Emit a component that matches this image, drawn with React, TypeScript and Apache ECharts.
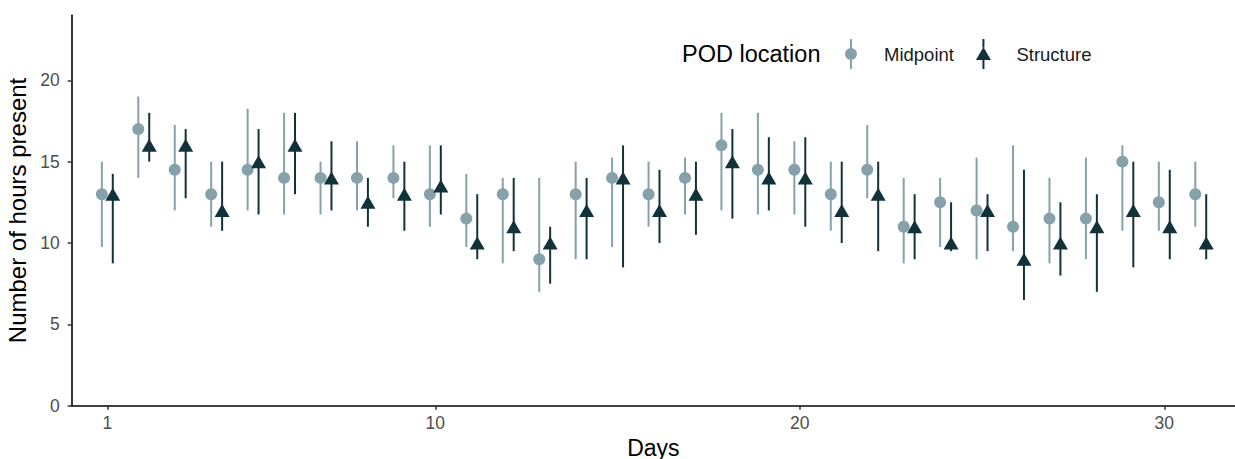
import React, { useEffect, useRef } from "react";
import * as echarts from "echarts";

const days = Array.from({ length: 31 }, (_, i) => i + 1);
const midMean = [13, 17, 14.5, 13, 14.5, 14, 14, 14, 14, 13, 11.5, 13, 9, 13, 14, 13, 14, 16, 14.5, 14.5, 13, 14.5, 11, 12.5, 12, 11, 11.5, 11.5, 15, 12.5, 13];
const midLow = [9.75, 14, 12, 11, 12, 11.75, 11.75, 12, 12.75, 11, 9.75, 8.75, 7, 9, 9.75, 11, 11.75, 12, 11.75, 11.75, 10.75, 12.75, 8.75, 9.75, 9, 9.5, 8.75, 9, 10.75, 10.75, 11];
const midHigh = [15, 19, 17.25, 15, 18.25, 18, 15, 16.25, 16, 16, 14.25, 14, 14, 15, 15.25, 15, 15.25, 18, 18, 16.25, 15, 17.25, 14, 14, 15.25, 16, 14, 15.25, 16, 15, 15];
const structMean = [13, 16, 16, 12, 15, 16, 14, 12.5, 13, 13.5, 10, 11, 10, 12, 14, 12, 13, 15, 14, 14, 12, 13, 11, 10, 12, 9, 10, 11, 12, 11, 10];
const structLow = [8.75, 15, 12.75, 10.75, 11.75, 13, 12, 11, 10.75, 11.75, 9, 9.5, 7.5, 9, 8.5, 10, 10.5, 11.5, 12, 11, 10, 9.5, 9, 9.5, 9.5, 6.5, 8, 7, 8.5, 9, 9];
const structHigh = [14.25, 18, 17, 15, 17, 18, 16.25, 14, 15, 16, 13, 14, 11, 14, 16, 14.5, 15, 17, 16.5, 16.5, 15, 15, 13, 12.5, 13, 14.5, 12.5, 13, 15, 14.5, 13];
const xTicks = [1, 10, 20, 30];
const yTicks = [0, 5, 10, 15, 20];

const MID_COLOR = "#86a1aa";
const STRUCT_COLOR = "#12323a";
const DODGE = 0.15;
const FONT = "'Liberation Sans', Arial, sans-serif";

const midIcon =
  "path://M7,0L9,0L9,9.5L7,9.5Z M7,20.5L9,20.5L9,30L7,30Z M2,15A6,6,0,1,1,14,15A6,6,0,1,1,2,15Z";
const structIcon =
  "path://M7,0L9,0L9,8.5L7,8.5Z M7,20.5L9,20.5L9,30L7,30Z M0.5,21L8,8L15.5,21Z";

function errorBar(color: string) {
  return (params: any, api: any) => {
    const x = api.value(0);
    const p1 = api.coord([x, api.value(1)]);
    const p2 = api.coord([x, api.value(2)]);
    return {
      type: "line",
      shape: { x1: p1[0], y1: p1[1], x2: p2[0], y2: p2[1] },
      style: { stroke: color, lineWidth: 2 },
    };
  };
}

export default function App() {
  const ref = useRef<HTMLDivElement>(null);
  useEffect(() => {
    if (!ref.current) return;
    const chart = echarts.init(ref.current, null, { renderer: "svg" });
    chart.setOption({
      animation: false,
      textStyle: { fontFamily: FONT },
      grid: { left: 71.7, right: 0, top: 15.2, bottom: 53.3, containLabel: false, outerBoundsMode: "none" },
      xAxis: {
        type: "value",
        min: 0.023,
        max: 31.94,
        name: "Days",
        nameLocation: "middle",
        nameGap: 22,
        nameTextStyle: { fontSize: 23, lineHeight: 23, color: "#000", fontFamily: FONT },
        splitLine: { show: false },
        axisLine: { show: true, lineStyle: { color: "#000", width: 1.6 } },
        axisTick: { show: true, customValues: xTicks, length: 4, lineStyle: { color: "#333", width: 1.5 } },
        axisLabel: { customValues: xTicks, fontSize: 17.5, color: "#4d4d4d", margin: 8, fontFamily: FONT },
      },
      yAxis: {
        type: "value",
        min: 0,
        max: 24,
        name: "Number of hours present",
        nameLocation: "middle",
        nameGap: 40,
        nameTextStyle: { fontSize: 24, color: "#000", fontFamily: FONT },
        splitLine: { show: false },
        axisLine: { show: true, lineStyle: { color: "#000", width: 1.6 } },
        axisTick: { show: true, customValues: yTicks, length: 4, lineStyle: { color: "#333", width: 1.5 } },
        axisLabel: { customValues: yTicks, fontSize: 17.5, color: "#4d4d4d", margin: 12, fontFamily: FONT },
      },
      legend: {
        left: 840,
        top: 34,
        itemWidth: 16,
        itemHeight: 30,
        itemGap: 22,
        selectedMode: false,
        textStyle: { fontSize: 18.5, color: "#1a1a1a", padding: [0, 0, 0, 20], fontFamily: FONT },
        data: [
          { name: "Midpoint", icon: midIcon, itemStyle: { color: MID_COLOR } },
          { name: "Structure", icon: structIcon, itemStyle: { color: STRUCT_COLOR } },
        ],
      },
      graphic: [
        {
          type: "text",
          left: 682,
          top: 42,
          style: { text: "POD location", fill: "#000", font: `23.5px ${FONT}` },
        },
      ],
      series: [
        {
          name: "Midpoint",
          type: "custom",
          color: MID_COLOR,
          renderItem: errorBar(MID_COLOR),
          encode: { x: 0, y: [1, 2] },
          data: days.map((d, i) => [d - DODGE, midLow[i], midHigh[i]]),
          z: 1,
        },
        {
          name: "Midpoint",
          type: "scatter",
          symbol: "circle",
          symbolSize: 12,
          itemStyle: { color: MID_COLOR, opacity: 1 },
          data: days.map((d, i) => [d - DODGE, midMean[i]]),
          z: 2,
        },
        {
          name: "Structure",
          type: "custom",
          color: STRUCT_COLOR,
          renderItem: errorBar(STRUCT_COLOR),
          encode: { x: 0, y: [1, 2] },
          data: days.map((d, i) => [d + DODGE, structLow[i], structHigh[i]]),
          z: 3,
        },
        {
          name: "Structure",
          type: "scatter",
          symbol: "triangle",
          symbolSize: [15, 13],
          itemStyle: { color: STRUCT_COLOR, opacity: 1 },
          data: days.map((d, i) => [d + DODGE, structMean[i]]),
          z: 4,
        },
      ],
    });
    return () => chart.dispose();
  }, []);
  return (
    <div
      ref={ref}
      style={{ position: "absolute", left: 0, top: 0, width: 1235, height: 459, background: "#fff" }}
    />
  );
}
